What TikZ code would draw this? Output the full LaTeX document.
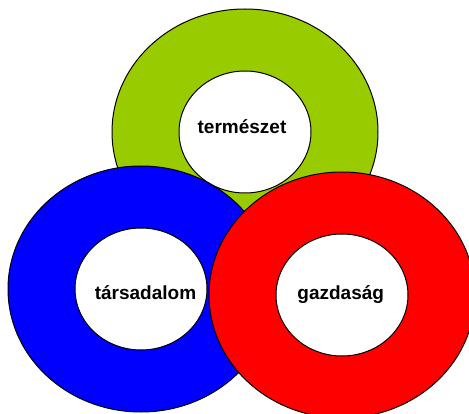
\documentclass[tikz,border=0pt]{standalone}
\usepackage{fontspec}
\setmainfont{Liberation Sans}
\definecolor{ringgreen}{RGB}{153,204,0}
\definecolor{ringblue}{RGB}{0,0,255}
\definecolor{ringred}{RGB}{255,0,0}
\tikzset{
  ringlabel/.style={font=\bfseries\fontsize{19pt}{21pt}\selectfont, anchor=base, inner sep=0pt},
  ringedge/.style={draw=black, line width=1pt}
}
\newcommand{\myring}[3]{%
  \fill[#1, even odd rule] (#2,#3) ellipse [x radius=133pt, y radius=123pt]
                            (#2,#3) ellipse [x radius=66pt, y radius=61pt];
  \draw[ringedge] (#2,#3) ellipse [x radius=133pt, y radius=123pt];
  \draw[ringedge] (#2,#3) ellipse [x radius=66pt, y radius=61pt];
}
\begin{document}
\begin{tikzpicture}[x=1pt,y=1pt]
\useasboundingbox (0,0) rectangle (469,413);
\fill[white] (0,0) rectangle (469,413);
\clip (0,0) rectangle (469,413);
\myring{ringgreen}{245}{281}
\myring{ringblue}{141}{124}
\myring{ringred}{342}{118}
\node[ringlabel] (termeszet) at (242,279) {természet};
\node[ringlabel] (tarsadalom) at (145.5,113.7) {társadalom};
\node[ringlabel] (gazdasag) at (340.7,113.7) {gazdaság};
\end{tikzpicture}
\end{document}
